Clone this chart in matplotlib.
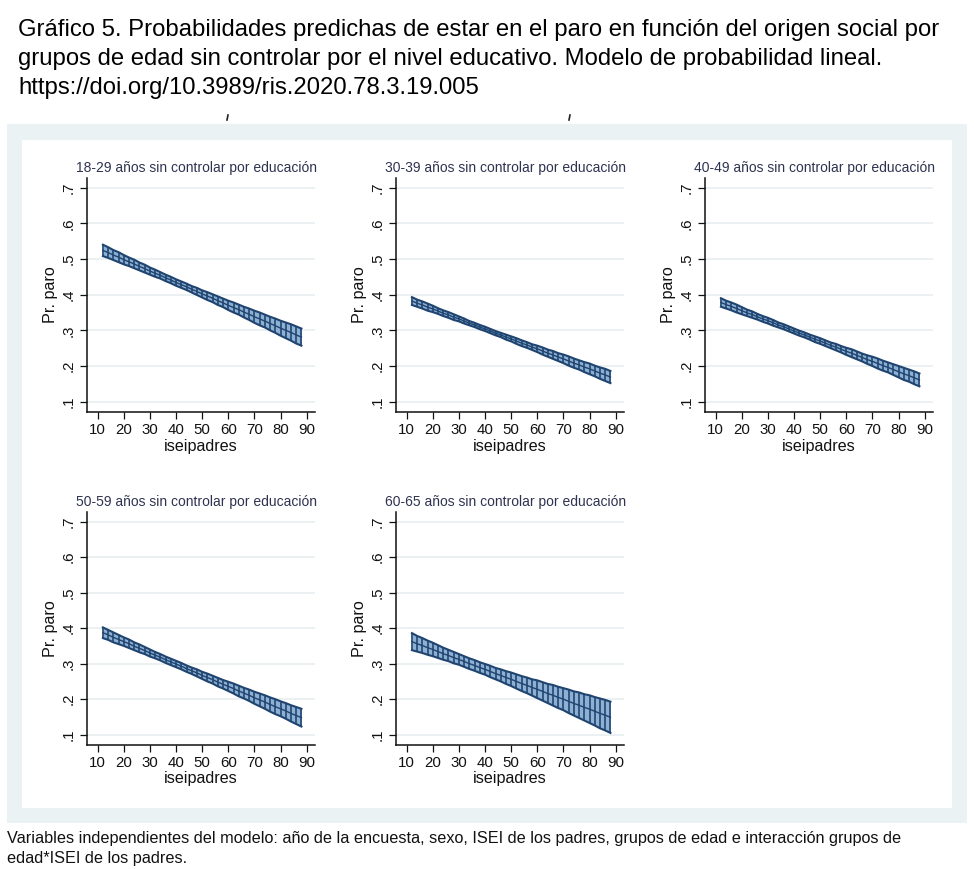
import matplotlib
matplotlib.use("Agg")
import matplotlib.pyplot as plt
from matplotlib.patches import Rectangle
from matplotlib.lines import Line2D

plt.rcParams['font.family'] = ['Liberation Sans', 'DejaVu Sans']

# ---------------- data ----------------
iseipadres = [12, 14, 16, 18, 20, 22, 24, 26, 28, 30, 32, 34, 36, 38, 40, 42, 44, 46, 48, 50,
              52, 54, 56, 58, 60, 62, 64, 66, 68, 70, 72, 74, 76, 78, 80, 82, 84, 86, 88]

titles = ["18-29 años sin controlar por educación",
          "30-39 años sin controlar por educación",
          "40-49 años sin controlar por educación",
          "50-59 años sin controlar por educación",
          "60-65 años sin controlar por educación"]

pred_18_29 = [0.524, 0.518, 0.511, 0.505, 0.498, 0.492, 0.486, 0.479, 0.473, 0.466,
              0.460, 0.454, 0.447, 0.441, 0.434, 0.428, 0.422, 0.415, 0.409, 0.402,
              0.396, 0.390, 0.383, 0.377, 0.370, 0.364, 0.358, 0.351, 0.345, 0.338,
              0.332, 0.326, 0.319, 0.313, 0.306, 0.300, 0.294, 0.287, 0.281]
ci_18_29 = [0.016, 0.015, 0.014, 0.014, 0.013, 0.012, 0.012, 0.011, 0.011, 0.010,
            0.010, 0.009, 0.009, 0.009, 0.009, 0.009, 0.009, 0.009, 0.010, 0.010,
            0.011, 0.011, 0.012, 0.012, 0.013, 0.014, 0.014, 0.015, 0.016, 0.017,
            0.018, 0.018, 0.019, 0.020, 0.021, 0.022, 0.023, 0.024, 0.024]

pred_30_39 = [0.382, 0.376, 0.371, 0.365, 0.360, 0.354, 0.348, 0.343, 0.337, 0.332,
              0.326, 0.320, 0.315, 0.309, 0.304, 0.298, 0.292, 0.287, 0.281, 0.276,
              0.270, 0.264, 0.259, 0.253, 0.248, 0.242, 0.236, 0.231, 0.225, 0.220,
              0.214, 0.208, 0.203, 0.197, 0.192, 0.186, 0.180, 0.175, 0.169]
ci_30_39 = [0.011, 0.010, 0.010, 0.010, 0.009, 0.008, 0.008, 0.008, 0.008, 0.007,
            0.007, 0.006, 0.006, 0.006, 0.006, 0.006, 0.006, 0.006, 0.007, 0.007,
            0.008, 0.008, 0.008, 0.008, 0.009, 0.010, 0.010, 0.011, 0.011, 0.012,
            0.013, 0.013, 0.013, 0.014, 0.015, 0.015, 0.016, 0.017, 0.017]

pred_40_49 = [0.378, 0.372, 0.367, 0.361, 0.355, 0.349, 0.344, 0.338, 0.332, 0.327,
              0.321, 0.315, 0.310, 0.304, 0.298, 0.292, 0.287, 0.281, 0.275, 0.270,
              0.264, 0.258, 0.253, 0.247, 0.241, 0.236, 0.230, 0.224, 0.218, 0.213,
              0.207, 0.201, 0.196, 0.190, 0.184, 0.178, 0.173, 0.167, 0.161]
ci_40_49 = [0.012, 0.011, 0.011, 0.011, 0.010, 0.009, 0.009, 0.008, 0.008, 0.008,
            0.008, 0.007, 0.007, 0.007, 0.007, 0.007, 0.007, 0.007, 0.008, 0.008,
            0.008, 0.008, 0.009, 0.009, 0.010, 0.011, 0.011, 0.011, 0.012, 0.013,
            0.014, 0.014, 0.014, 0.015, 0.016, 0.017, 0.017, 0.018, 0.018]

pred_50_59 = [0.387, 0.381, 0.374, 0.368, 0.362, 0.356, 0.349, 0.343, 0.337, 0.330,
              0.324, 0.318, 0.311, 0.305, 0.299, 0.293, 0.286, 0.280, 0.274, 0.267,
              0.261, 0.255, 0.248, 0.242, 0.236, 0.230, 0.223, 0.217, 0.211, 0.204,
              0.198, 0.192, 0.185, 0.179, 0.173, 0.167, 0.160, 0.154, 0.148]
ci_50_59 = [0.015, 0.014, 0.014, 0.013, 0.012, 0.012, 0.011, 0.011, 0.010, 0.010,
            0.009, 0.009, 0.009, 0.009, 0.009, 0.009, 0.009, 0.009, 0.010, 0.010,
            0.011, 0.011, 0.012, 0.012, 0.013, 0.014, 0.015, 0.015, 0.016, 0.017,
            0.018, 0.019, 0.020, 0.021, 0.021, 0.022, 0.023, 0.024, 0.025]

pred_60_65 = [0.362, 0.356, 0.351, 0.345, 0.340, 0.334, 0.328, 0.323, 0.317, 0.312,
              0.306, 0.300, 0.295, 0.289, 0.284, 0.278, 0.272, 0.267, 0.261, 0.256,
              0.250, 0.244, 0.239, 0.233, 0.228, 0.222, 0.216, 0.211, 0.205, 0.200,
              0.194, 0.188, 0.183, 0.177, 0.172, 0.166, 0.160, 0.155, 0.149]
ci_60_65 = [0.024, 0.022, 0.021, 0.020, 0.019, 0.018, 0.017, 0.016, 0.016, 0.015,
            0.015, 0.015, 0.015, 0.015, 0.015, 0.016, 0.016, 0.017, 0.018, 0.019,
            0.020, 0.021, 0.022, 0.023, 0.025, 0.026, 0.027, 0.029, 0.030, 0.031,
            0.033, 0.034, 0.036, 0.037, 0.039, 0.040, 0.042, 0.043, 0.044]

preds = [pred_18_29, pred_30_39, pred_40_49, pred_50_59, pred_60_65]
cis = [ci_18_29, ci_30_39, ci_40_49, ci_50_59, ci_60_65]

x_ticks = [10, 20, 30, 40, 50, 60, 70, 80, 90]
y_ticks = [0.1, 0.2, 0.3, 0.4, 0.5, 0.6, 0.7]
y_ticklabels = [".1", ".2", ".3", ".4", ".5", ".6", ".7"]

title_lines = ["Gráfico 5. Probabilidades predichas de estar en el paro en función del origen social por",
               "grupos de edad sin controlar por el nivel educativo. Modelo de probabilidad lineal.",
               "https://doi.org/10.3989/ris.2020.78.3.19.005"]
note_lines = ["Variables independientes del modelo: año de la encuesta, sexo, ISEI de los padres, grupos de edad e interacción grupos de",
              "edad*ISEI de los padres."]

# ---------------- figure ----------------
W, H = 974, 869
fig = plt.figure(figsize=(W / 100, H / 100), dpi=100)
fig.patch.set_facecolor('white')


def fx(px):
    return px / W


def fy(py):
    return 1 - py / H


# background regions
fig.patches.append(Rectangle((fx(7), fy(823)), fx(967) - fx(7), fy(124) - fy(823),
                             transform=fig.transFigure, facecolor='#eaf2f3', edgecolor='none', zorder=-10))
fig.patches.append(Rectangle((fx(22), fy(808)), fx(952) - fx(22), fy(140) - fy(808),
                             transform=fig.transFigure, facecolor='white', edgecolor='none', zorder=-9))

# stray marks
for mx in (228, 570):
    fig.lines.append(Line2D([fx(mx), fx(mx - 1)], [fy(115), fy(120)], transform=fig.transFigure,
                            color='#222222', lw=1.2))

for i, line in enumerate(title_lines):
    fig.text(fx(18), fy(30 + 29 * i), line, fontsize=17.2, va='center', ha='left', color='black')

for i, line in enumerate(note_lines):
    fig.text(fx(7), fy(838 + 20 * i), line, fontsize=11.7, va='center', ha='left', color='#111111')

lefts = [87, 396, 705, 87, 396]
tops = [178, 178, 178, 512, 512]
bottoms = [412, 412, 412, 745, 745]
AW = 228

navy = '#1f4470'
vcol = '#2b5079'
fill = '#8db0d4'

for k in range(5):
    l, t, b = lefts[k], tops[k], bottoms[k]
    ax = fig.add_axes([fx(l), fy(b), AW / W, (b - t) / H])
    ax.set_facecolor('white')
    x = iseipadres
    m = preds[k]
    lo = [mi - ci for mi, ci in zip(m, cis[k])]
    hi = [mi + ci for mi, ci in zip(m, cis[k])]
    ax.fill_between(x, lo, hi, color=fill, lw=0, zorder=2)
    ax.vlines(x, lo, hi, color=vcol, lw=1.3, zorder=3)
    ax.plot(x, lo, color=navy, lw=1.5, zorder=4)
    ax.plot(x, hi, color=navy, lw=1.5, zorder=4)
    ax.plot(x, m, color=navy, lw=1.0, zorder=4)

    ax.set_xlim(5.9, 93.2)
    ax.set_ylim(0.071, 0.727)
    ax.set_xticks(x_ticks)
    ax.set_yticks(y_ticks)
    ax.set_yticklabels(y_ticklabels, rotation=90, va='center')
    ax.tick_params(axis='both', direction='out', length=5, width=0.9, colors='#111111',
                   labelsize=10.8, pad=3)
    ax.grid(axis='y', color='#e8eff1', lw=1.2, zorder=1)
    ax.set_axisbelow(True)
    for s in ('top', 'right'):
        ax.spines[s].set_visible(False)
    for s in ('left', 'bottom'):
        ax.spines[s].set_color('#111111')
        ax.spines[s].set_linewidth(1.1)
    ax.set_xlabel('iseipadres', fontsize=11.6, labelpad=1, color='#111111')
    ax.set_ylabel('Pr. paro', fontsize=11.6, labelpad=3, color='#111111')
    ax.text(0.48, 1.0 + 10 / (b - t), titles[k], transform=ax.transAxes, ha='center', va='center',
            fontsize=10, color='#2e3350')

fig.savefig('out.png', dpi=100, facecolor='white')
